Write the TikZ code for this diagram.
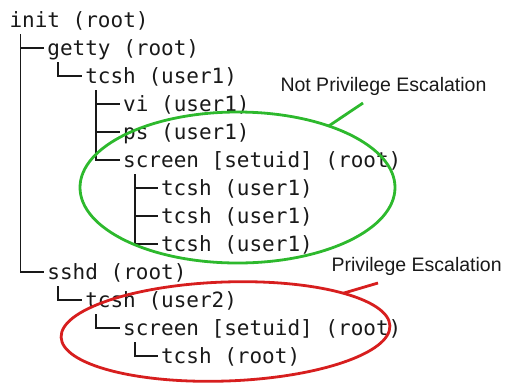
\documentclass[tikz,border=0pt]{standalone}
\usepackage{fontspec}
\setmainfont{Liberation Sans}
\newfontfamily\treemono{DejaVu Sans Mono}
\usetikzlibrary{shapes.geometric}
\definecolor{ringgreen}{RGB}{45,185,45}
\definecolor{ringred}{RGB}{215,30,30}
\definecolor{ink}{RGB}{25,25,25}
\begin{document}
\begin{tikzpicture}[x=1bp,y=1bp,
  proc/.style={font=\treemono\fontsize{21bp}{21bp}\selectfont, text=ink, inner sep=0pt, outer sep=0pt, anchor=base west, text height=22.4bp, text depth=7bp},
  branch/.style={draw=ink, line width=1.8bp, shorten >=3.5bp},
  ring/.style={ellipse, draw, line width=2.8bp, inner sep=0pt, outer sep=0pt},
  note/.style={font=\fontsize{19.5bp}{19.5bp}\selectfont, text=ink, inner sep=0pt, outer sep=0pt, anchor=base west},
  pointer/.style={line width=2.8bp}]
\useasboundingbox (0,0) rectangle (505,-382);

% process tree
\node[proc] (init)    at (9.5,-27.3)   {init (root)};
\node[proc] (getty)   at (47.4,-55.3)  {getty (root)};
\node[proc] (tcshA)   at (85.3,-83.3)  {tcsh (user1)};
\node[proc] (vi)      at (123.2,-111.3) {vi (user1)};
\node[proc] (ps)      at (123.2,-139.3) {ps (user1)};
\node[proc] (screenA) at (123.2,-167.3) {screen [setuid] (root)};
\node[proc] (tcshB)   at (161.1,-195.3) {tcsh (user1)};
\node[proc] (tcshC)   at (161.1,-223.3) {tcsh (user1)};
\node[proc] (tcshD)   at (161.1,-251.3) {tcsh (user1)};
\node[proc] (sshd)    at (47.4,-279.3) {sshd (root)};
\node[proc] (tcshE)   at (85.3,-307.3) {tcsh (user2)};
\node[proc] (screenB) at (123.2,-335.3) {screen [setuid] (root)};
\node[proc] (tcshF)   at (161.1,-363.3) {tcsh (root)};

% branches
\draw[branch] ([xshift=11bp]init.south west) |- (getty.west);
\draw[branch] ([xshift=11bp]init.south west) |- (sshd.west);
\draw[branch] ([xshift=10.5bp]getty.south west) |- (tcshA.west);
\draw[branch] ([xshift=10.5bp]tcshA.south west) |- (vi.west);
\draw[branch] ([xshift=10.5bp]tcshA.south west) |- (ps.west);
\draw[branch] ([xshift=10.5bp]tcshA.south west) |- (screenA.west);
\draw[branch] ([xshift=11.5bp]screenA.south west) |- (tcshB.west);
\draw[branch] ([xshift=11.5bp]screenA.south west) |- (tcshC.west);
\draw[branch] ([xshift=11.5bp]screenA.south west) |- (tcshD.west);
\draw[branch] ([xshift=10.5bp]sshd.south west) |- (tcshE.west);
\draw[branch] ([xshift=10.5bp]tcshE.south west) |- (screenB.west);
\draw[branch] ([xshift=11.5bp]screenB.south west) |- (tcshF.west);

% rings
\node[ring, draw=ringgreen, minimum width=315bp, minimum height=151bp] (greenring) at (237.5,-187.5) {};
\node[ring, draw=ringred, minimum width=329bp, minimum height=99bp, rotate=2] (redring) at (225.5,-331.5) {};

% labels and pointers
\node[note] (notesc) at (280.5,-91.7) {Not Privilege Escalation};
\node[note] (esc)    at (331.5,-271.7) {Privilege Escalation};
\coordinate (gtip) at (363,-103);
\coordinate (rtip) at (378,-283);
\draw[pointer, ringgreen] (gtip) -- (greenring.34);
\draw[pointer, ringred] (rtip) -- (redring.16);
\end{tikzpicture}
\end{document}
